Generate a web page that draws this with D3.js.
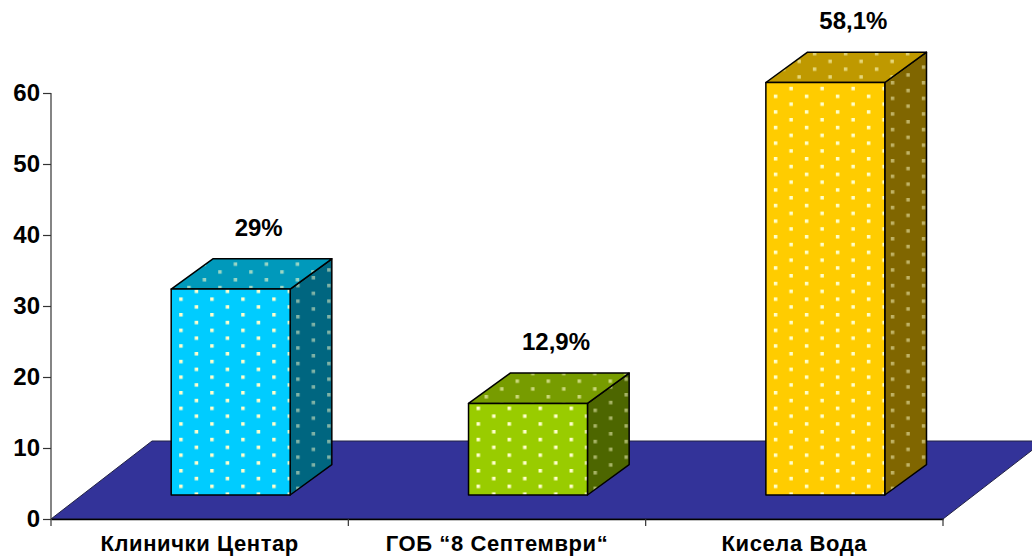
<!DOCTYPE html>
<html>
<head>
<meta charset="utf-8">
<script src="https://cdn.jsdelivr.net/npm/d3@7"></script>
<style>
  html, body { margin: 0; padding: 0; background: #ffffff; }
  svg { display: block; }
  text { font-family: "Liberation Sans", Arial, sans-serif; font-weight: bold; fill: #000; }
</style>
</head>
<body>
<svg id="chart" width="1032" height="556"></svg>
<script>
// ---- data ----
const categories = ["Клинички Центар", "ГОБ \u201C8 Септември\u201C", "Кисела Вода"];
const values = [29, 12.9, 58.1];
const valueLabels = ["29%", "12,9%", "58,1%"];
const yTicks = [0, 10, 20, 30, 40, 50, 60];
const frontColors = ["#00CCFF", "#99CC00", "#FFCC00"];
const topColors = ["#0099BB", "#779C00", "#BF9900"];
const sideColors = ["#006680", "#4D6600", "#806600"];

// ---- layout ----
const svg = d3.select("#chart");
const x0 = 51, x1 = 943;
const floorDx = 101, floorDy = 78;         // depth of floor
const offDx = 31, offDy = 24;              // bar front plane offset into depth
const barDx = 41.7, barDy = 30.3;          // bar depth

const x = d3.scaleBand().domain(categories).range([x0, x1]).paddingInner(0).paddingOuter(0);
const y = d3.scaleLinear().domain([0, 60]).range([519, 93]);
const barW = x.bandwidth() * 0.4;

const defs = svg.append("defs");
function makePattern(id, bg, dotOpacity, ox, oy) {
  const p = defs.append("pattern").attr("id", id)
    .attr("patternUnits", "userSpaceOnUse")
    .attr("x", ox).attr("y", oy)
    .attr("width", 31).attr("height", 15.6);
  p.append("rect").attr("width", 31).attr("height", 15.6).attr("fill", bg);
  p.append("rect").attr("x", 0).attr("y", 0).attr("width", 3.5).attr("height", 3.5)
    .attr("fill", "#FFFFCC").attr("fill-opacity", dotOpacity);
  p.append("rect").attr("x", 15.5).attr("y", 7.8).attr("width", 3.5).attr("height", 3.5)
    .attr("fill", "#FFFFCC").attr("fill-opacity", dotOpacity);
}
categories.forEach((c, i) => {
  const fx = x(c) + offDx + (x.bandwidth() - barW) / 2;
  makePattern("pf" + i, frontColors[i], 1, fx + 8, 1);
  makePattern("pt" + i, topColors[i], 0.6, fx + 16, 5);
  makePattern("ps" + i, sideColors[i], 0.5, fx + barW + 6, 3);
});

// ---- floor ----
const fy = y(0);
svg.append("polygon")
  .attr("points", [[x0, fy], [x1, fy], [x1 + floorDx, fy - floorDy], [x0 + floorDx, fy - floorDy]].map(p => p.join(",")).join(" "))
  .attr("fill", "#333399")
  .attr("stroke", "#222244").attr("stroke-width", 1);

// ---- bars ----
const bars = svg.append("g");
categories.forEach((c, i) => {
  const left = x(c) + offDx + (x.bandwidth() - barW) / 2;
  const right = left + barW;
  const bottom = y(0) - offDy;
  const top = y(values[i]) - offDy;
  const g = bars.append("g").attr("stroke", "#000").attr("stroke-width", 1.5).attr("stroke-linejoin", "round");
  // side face
  g.append("polygon")
    .attr("points", [[right, bottom], [right + barDx, bottom - barDy], [right + barDx, top - barDy], [right, top]].map(p => p.join(",")).join(" "))
    .attr("fill", "url(#ps" + i + ")");
  // top face
  g.append("polygon")
    .attr("points", [[left, top], [right, top], [right + barDx, top - barDy], [left + barDx, top - barDy]].map(p => p.join(",")).join(" "))
    .attr("fill", "url(#pt" + i + ")");
  // front face
  g.append("rect")
    .attr("x", left).attr("y", top).attr("width", barW).attr("height", bottom - top)
    .attr("fill", "url(#pf" + i + ")");
  // value label
  svg.append("text")
    .attr("x", (left + right) / 2 + 28)
    .attr("y", top - barDy - 23)
    .attr("text-anchor", "middle")
    .attr("font-size", 24)
    .text(valueLabels[i]);
});

// ---- y axis ----
const yAxis = d3.axisLeft(y).tickValues(yTicks).tickSize(8).tickPadding(3).tickFormat(d3.format("d"));
const gy = svg.append("g").attr("transform", `translate(${x0},0)`).call(yAxis);
gy.select(".domain").attr("stroke", "#333").attr("stroke-width", 1.2).attr("d", `M0,${y(60)}V${y(0)}`);
gy.selectAll(".tick line").attr("stroke", "#333").attr("stroke-width", 1.2);
gy.selectAll(".tick text")
  .style("font-family", '"Liberation Sans", Arial, sans-serif')
  .style("font-weight", "bold")
  .attr("font-size", 24).attr("fill", "#000");

// ---- x axis ----
const xAxis = d3.axisBottom(x).tickSize(0).tickPadding(0);
const gx = svg.append("g").attr("transform", `translate(0,${y(0)})`).call(xAxis);
gx.select(".domain").attr("stroke", "#000").attr("stroke-width", 1.5);
gx.selectAll(".tick text")
  .style("font-family", '"Liberation Sans", Arial, sans-serif')
  .style("font-weight", "bold")
  .style("letter-spacing", "0.6px")
  .attr("font-size", 22).attr("fill", "#000")
  .attr("y", 32).attr("dy", 0);
const bounds = categories.map(c => x(c)).concat([x(categories[categories.length - 1]) + x.bandwidth()]);
gx.selectAll("line.bound").data(bounds).enter().append("line")
  .attr("class", "bound")
  .attr("x1", d => d).attr("x2", d => d)
  .attr("y1", 0).attr("y2", 7)
  .attr("stroke", "#333").attr("stroke-width", 1.2);
</script>
</body>
</html>
